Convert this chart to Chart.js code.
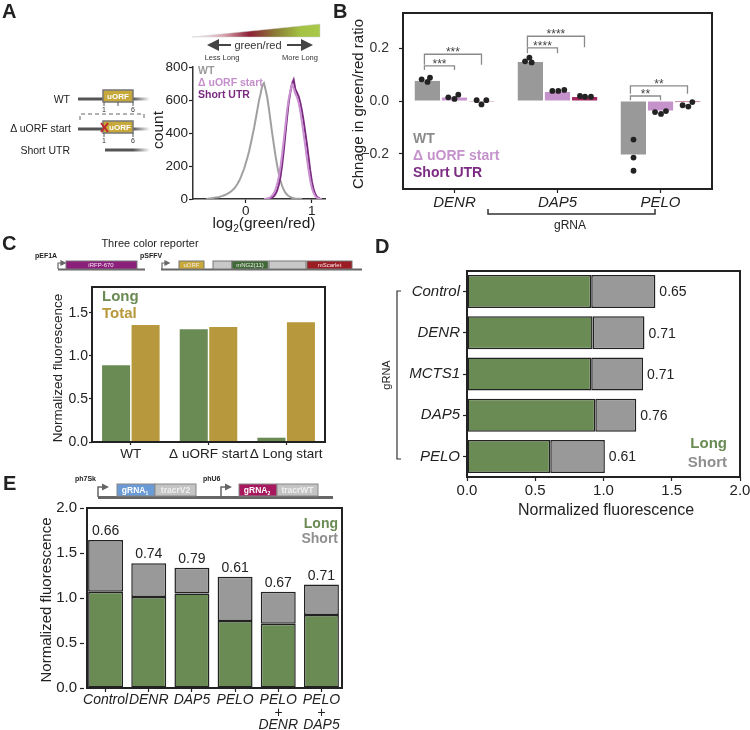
<!DOCTYPE html>
<html>
<head>
<meta charset="utf-8">
<script src="https://cdn.jsdelivr.net/npm/chart.js@4.4.0/dist/chart.umd.min.js"></script>
<style>
  body { margin: 0; background: #fff; width: 750px; height: 730px; position: relative; overflow: hidden;
         font-family: "Liberation Sans", Arial, sans-serif; }
  canvas { position: absolute; }
  svg { position: absolute; left: 0; top: 0; }
</style>
</head>
<body>
<canvas id="chA" width="192" height="160" style="left:140px;top:60px"></canvas>
<canvas id="chB" width="378" height="215" style="left:340px;top:5px"></canvas>
<canvas id="chB2" width="378" height="215" style="left:340px;top:5px"></canvas>
<canvas id="chC" width="275" height="185" style="left:55px;top:280px"></canvas>
<canvas id="chD" width="355" height="255" style="left:395px;top:264px"></canvas>
<canvas id="chE" width="307" height="230" style="left:40px;top:500px"></canvas>

<svg width="750" height="730" font-family="Liberation Sans, Arial, sans-serif">
  <defs>
    <linearGradient id="gr" x1="0" x2="1">
      <stop offset="0" stop-color="#ffffff"/>
      <stop offset="0.25" stop-color="#d7a2ae"/>
      <stop offset="0.45" stop-color="#8e1f35"/>
      <stop offset="0.65" stop-color="#8a7a35"/>
      <stop offset="0.85" stop-color="#a4c243"/>
      <stop offset="1" stop-color="#a9c94a"/>
    </linearGradient>
    <linearGradient id="fade" gradientUnits="userSpaceOnUse" x1="133" x2="150">
      <stop offset="0" stop-color="#555"/><stop offset="1" stop-color="#555" stop-opacity="0"/>
    </linearGradient>
    <marker id="ah" markerWidth="6" markerHeight="6" refX="4" refY="3" orient="auto">
      <path d="M0,0 L6,3 L0,6 z" fill="#444"/>
    </marker>
    <marker id="ah2" markerWidth="5" markerHeight="5" refX="3" refY="2.5" orient="auto">
      <path d="M0,0 L5,2.5 L0,5 z" fill="#666"/>
    </marker>
  </defs>

  <!-- panel letters -->
  <g font-weight="bold" font-size="20" fill="#222">
    <text x="2" y="18">A</text>
    <text x="333" y="18">B</text>
    <text x="2" y="250">C</text>
    <text x="375" y="253">D</text>
    <text x="3" y="490">E</text>
  </g>

  <!-- A: gradient key -->
  <polygon points="192,37 320,24 320,37" fill="url(#gr)" stroke="#ccc" stroke-width="0.5"/>
  <line x1="231" y1="45" x2="211" y2="45" stroke="#444" stroke-width="2" marker-end="url(#ah)"/>
  <line x1="287" y1="45" x2="309" y2="45" stroke="#444" stroke-width="2" marker-end="url(#ah)"/>
  <text x="258" y="49" text-anchor="middle" font-size="11" fill="#333">green/red</text>
  <text x="222" y="60" text-anchor="middle" font-size="7.5" fill="#333">Less Long</text>
  <text x="300" y="60" text-anchor="middle" font-size="7.5" fill="#333">More Long</text>

  <!-- A: construct schematic -->
  <g font-size="10.5" fill="#222" text-anchor="end">
    <text x="70" y="103">WT</text>
    <text x="71" y="132">Δ uORF start</text>
    <text x="70" y="154">Short UTR</text>
  </g>
  <line x1="78" y1="99" x2="133" y2="99" stroke="#555" stroke-width="3"/>
  <line x1="133" y1="99" x2="150" y2="99" stroke="url(#fade)" stroke-width="3"/>
  <rect x="103" y="90" width="30" height="12" fill="#c7a93b" stroke="#777" stroke-width="1.5"/>
  <text x="118" y="99" text-anchor="middle" font-size="8" font-weight="bold" fill="#fff">uORF</text>
  <g stroke="#555" stroke-width="1"><line x1="104" y1="102" x2="104" y2="106"/><line x1="118" y1="102" x2="118" y2="106"/><line x1="133" y1="102" x2="133" y2="106"/></g>
  <g font-size="7" fill="#333" text-anchor="middle"><text x="104" y="112">1</text><text x="133" y="112">6</text><text x="104" y="143">1</text><text x="133" y="143">6</text></g>
  <path d="M80,120 V114 H144 V120" fill="none" stroke="#999" stroke-width="1.5" stroke-dasharray="4,3"/>
  <line x1="78" y1="129" x2="133" y2="129" stroke="#555" stroke-width="3"/>
  <line x1="133" y1="129" x2="150" y2="129" stroke="url(#fade)" stroke-width="3"/>
  <rect x="103" y="121" width="30" height="12" fill="#c7a93b" stroke="#777" stroke-width="1.5"/>
  <text x="120" y="130" text-anchor="middle" font-size="8" font-weight="bold" fill="#fff">uORF</text>
  <g stroke="#c0282b" stroke-width="2"><line x1="101" y1="123" x2="108" y2="132"/><line x1="108" y1="123" x2="101" y2="132"/></g>
  <g stroke="#555" stroke-width="1"><line x1="104" y1="133" x2="104" y2="137"/><line x1="133" y1="133" x2="133" y2="137"/></g>
  <line x1="105" y1="150" x2="133" y2="150" stroke="#555" stroke-width="3"/>
  <line x1="133" y1="150" x2="150" y2="150" stroke="url(#fade)" stroke-width="3"/>

  <!-- A: titles and legend -->
  <text x="157" y="130" text-anchor="middle" dominant-baseline="central" font-size="15.5" fill="#222" transform="rotate(-90 157 130)">count</text>
  <text x="264" y="228" text-anchor="middle" font-size="15.5" fill="#222">log<tspan font-size="10" dy="4">2</tspan><tspan dy="-4">(green/red)</tspan></text>
  <g font-weight="bold" font-size="10.5">
    <text x="198" y="74" fill="#9a9a9a">WT</text>
    <text x="198" y="86" fill="#c48fcb">Δ uORF start</text>
    <text x="198" y="98" fill="#7a2a80">Short UTR</text>
  </g>

  <!-- B: titles, legend, gRNA bracket -->
  <text x="357" y="104" text-anchor="middle" dominant-baseline="central" font-size="15" fill="#222" transform="rotate(-90 357 104)">Chnage in green/red ratio</text>
  <g font-weight="bold" font-size="14">
    <text x="413" y="143" fill="#8c8c8c">WT</text>
    <text x="413" y="160" fill="#c592cc">Δ uORF start</text>
    <text x="413" y="177" fill="#7b2a82">Short UTR</text>
  </g>
  <path d="M488,209 V214 H655 V209" fill="none" stroke="#333" stroke-width="1.5"/>
  <text x="570" y="229" text-anchor="middle" font-size="12" fill="#222">gRNA</text>

  <!-- C: reporter schematic -->
  <text x="150" y="247" text-anchor="middle" font-size="11" fill="#222">Three color reporter</text>
  <g font-size="7" font-weight="bold" fill="#222">
    <text x="35" y="258">pEF1A</text>
    <text x="140" y="258">pSFFV</text>
  </g>
  <line x1="58" y1="269.5" x2="145" y2="269.5" stroke="#666" stroke-width="2"/>
  <path d="M58,269 V263 H64" fill="none" stroke="#666" stroke-width="1.2" marker-end="url(#ah2)"/>
  <rect x="66" y="261" width="71" height="8" fill="#8c1f7c" stroke="#777" stroke-width="1"/>
  <line x1="161" y1="269.5" x2="362" y2="269.5" stroke="#666" stroke-width="2"/>
  <path d="M162,269 V263 H168" fill="none" stroke="#666" stroke-width="1.2" marker-end="url(#ah2)"/>
  <rect x="179" y="261" width="25" height="8" fill="#c9a93a" stroke="#777" stroke-width="1"/>
  <rect x="213" y="261" width="19" height="8" fill="#c8c8c8" stroke="#777" stroke-width="1"/>
  <rect x="232" y="261" width="36" height="8" fill="#3e6b35" stroke="#777" stroke-width="1"/>
  <rect x="269" y="261" width="37" height="8" fill="#c8c8c8" stroke="#777" stroke-width="1"/>
  <rect x="307" y="261" width="45" height="8" fill="#9b1c22" stroke="#777" stroke-width="1"/>
  <g font-size="6" fill="#f4e9f0" text-anchor="middle">
    <text x="101" y="267.3">iRFP-670</text>
    <text x="191.5" y="267.3">uORF</text>
    <text x="250" y="267.3">mNG2(11)</text>
    <text x="329.5" y="267.3">mScarlet</text>
  </g>

  <!-- C: titles and legend -->
  <text x="57" y="368" text-anchor="middle" dominant-baseline="central" font-size="13.5" fill="#222" transform="rotate(-90 57 368)">Normalized fluorescence</text>
  <g font-weight="bold" font-size="15">
    <text x="102" y="301" fill="#6b8b55">Long</text>
    <text x="102" y="318" fill="#b8983c">Total</text>
  </g>

  <!-- D: gRNA bracket, titles, legend -->
  <path d="M401,291 H397 V459 H401" fill="none" stroke="#333" stroke-width="1.2"/>
  <text x="386" y="375" text-anchor="middle" dominant-baseline="central" font-size="11" fill="#222" transform="rotate(-90 386 375)">gRNA</text>
  <text x="606" y="515" text-anchor="middle" font-size="16" fill="#222">Normalized fluorescence</text>
  <g font-weight="bold" font-size="15" text-anchor="end">
    <text x="727" y="448" fill="#6b8b55">Long</text>
    <text x="727" y="467" fill="#8f8f8f">Short</text>
  </g>

  <!-- E: gRNA schematic -->
  <g font-size="7" font-weight="bold" fill="#222">
    <text x="75" y="481">ph7Sk</text>
    <text x="203" y="481">phU6</text>
  </g>
  <line x1="98" y1="497.5" x2="333" y2="497.5" stroke="#666" stroke-width="3"/>
  <path d="M98,497 V487 H106" fill="none" stroke="#666" stroke-width="1.5" marker-end="url(#ah2)"/>
  <path d="M221,497 V487 H229" fill="none" stroke="#666" stroke-width="1.5" marker-end="url(#ah2)"/>
  <rect x="117" y="484" width="38" height="12" fill="#6b9bd6" stroke="#888" stroke-width="1"/>
  <rect x="155" y="484" width="41" height="12" fill="#c4c4c4" stroke="#888" stroke-width="1"/>
  <rect x="239" y="484" width="38" height="12" fill="#a8185e" stroke="#888" stroke-width="1"/>
  <rect x="277" y="484" width="41" height="12" fill="#c4c4c4" stroke="#888" stroke-width="1"/>
  <g font-size="8.5" font-weight="bold" fill="#fff" text-anchor="middle">
    <text x="135" y="493">gRNA<tspan font-size="5" dy="2">1</tspan></text>
    <text x="175.5" y="493" fill="#f0f0f0">tracrV2</text>
    <text x="257" y="493">gRNA<tspan font-size="5" dy="2">2</tspan></text>
    <text x="297.5" y="493" fill="#f0f0f0">tracrWT</text>
  </g>

  <!-- E: titles and legend -->
  <text x="45" y="600" text-anchor="middle" dominant-baseline="central" font-size="15" fill="#222" transform="rotate(-90 45 600)">Normalized fluorescence</text>
  <g font-weight="bold" font-size="14" text-anchor="end">
    <text x="338" y="528" fill="#6b8b55">Long</text>
    <text x="338" y="543" fill="#8f8f8f">Short</text>
  </g>
</svg>

<script>
// ---- A: histogram of log2(green/red)
const binsA = [-0.6,-0.575,-0.55,-0.525,-0.5,-0.475,-0.45,-0.425,-0.4,-0.375,-0.35,-0.325,-0.3,-0.275,-0.25,-0.225,
  -0.2,-0.175,-0.15,-0.125,-0.1,-0.075,-0.05,-0.025,0,0.025,0.05,0.075,0.1,0.125,0.15,0.175,0.2,0.225,0.25,0.275,
  0.3,0.325,0.35,0.375,0.4,0.425,0.45,0.475,0.5,0.525,0.55,0.575,0.6,0.625,0.65,0.675,0.7,0.725,0.75,0.775,
  0.8,0.825,0.85,0.875,0.9,0.925,0.95,0.975,1,1.025,1.05,1.075,1.1,1.125,1.15];
const countWT = [0,1,3,4,6,7,10,9,13,16,19,23,27,32,38,46,
  54,63,77,92,110,132,158,185,218,252,290,335,382,430,485,540,598,640,688,702,
  662,615,548,472,398,330,262,204,152,110,80,56,38,26,18,12,8,5,3,2,
  1,1,0,0,0,0,0,0,0,0,0,0,0,0,0];
const countUorf = [0,0,0,0,0,0,0,0,0,0,0,0,0,0,0,0,
  0,0,0,0,0,0,0,0,0,0,0,0,0,0,0,0,0,0,0,0,
  1,3,6,12,22,36,58,90,135,195,270,355,445,535,605,655,695,672,640,618,
  585,535,468,398,325,248,178,115,68,38,18,8,3,1,0];
const countShort = [0,0,0,0,0,0,0,0,0,0,0,0,0,0,0,0,
  0,0,0,0,0,0,0,0,0,0,0,0,0,0,0,0,0,0,0,0,
  0,0,2,4,9,17,30,52,86,135,205,295,395,495,585,648,698,722,665,645,
  622,585,535,475,405,335,255,175,108,62,32,15,6,2,0];

// ---- B: change in green/red ratio
const groupsB = ['DENR', 'DAP5', 'PELO'];
const barWT = [0.076, 0.148, -0.202];
const barUorf = [0.013, 0.034, -0.036];
const barShort = [-0.001, 0.015, -0.004];
const ptsWT = [[0.082, 0.072, 0.088], [0.150, 0.164, 0.146], [-0.146, -0.214, -0.264]];
const ptsUorf = [[0.014, 0.008, 0.024], [0.038, 0.038, 0.042], [-0.042, -0.049, -0.038]];
const ptsShort = [[0.003, -0.013, 0.003], [0.019, 0.016, 0.016], [-0.016, -0.021, -0.004]];
const jitWT = [[-0.057, 0, 0.024], [-0.053, -0.011, 0.011], [0, 0, 0]];
const jitUorf = [[-0.06, 0, 0.037], [-0.05, 0.008, 0.066], [-0.053, 0.005, 0.053]];
const jitShort = [[-0.047, 0, 0.047], [-0.044, 0.005, 0.063], [-0.047, 0.008, 0.047]];
const sigGroup = [0, 0, 1, 1, 2, 2];
const sigTo = [1, 2, 1, 2, 1, 2];
const sigY = [0.133, 0.177, 0.201, 0.245, 0.019, 0.057];
const sigTip = [0.016, 0.04, 0.02, 0.042, 0.016, 0.03];
const sigText = ['***', '***', '****', '****', '**', '**'];

// ---- C: three color reporter
const groupsC = ['WT', 'Δ uORF start', 'Δ Long start'];
const longC = [0.89, 1.31, 0.05];
const totalC = [1.36, 1.335, 1.39];

// ---- D: single gRNA knockdowns
const groupsD = ['Control', 'DENR', 'MCTS1', 'DAP5', 'PELO'];
const longD = [0.91, 0.92, 0.91, 0.94, 0.61];
const shortD = [0.47, 0.38, 0.38, 0.30, 0.40];
const ratioD = ['0.65', '0.71', '0.71', '0.76', '0.61'];

// ---- E: double gRNA knockdowns
const groupsE = ['Control', 'DENR', 'DAP5', 'PELO', ['PELO', '+', 'DENR'], ['PELO', '+', 'DAP5']];
const longE = [1.07, 1.01, 1.05, 0.745, 0.715, 0.81];
const shortE = [0.575, 0.375, 0.285, 0.49, 0.355, 0.34];
const ratioE = ['0.66', '0.74', '0.79', '0.61', '0.67', '0.71'];

const GREEN = '#6b8b55', GREY = '#999999', INK = '#222';

Chart.defaults.font.family = '"Liberation Sans", Arial, sans-serif';
Chart.defaults.color = INK;
Chart.defaults.animation = false;
Chart.defaults.plugins.legend.display = false;
Chart.defaults.plugins.tooltip.enabled = false;

// fix axis sizes so the plot boxes land where the reference has them
function wide(w) { return s => { s.width = w; s.paddingTop = s.paddingBottom = s.paddingLeft = s.paddingRight = 0; }; }
function tall(h) { return s => { s.height = h; s.paddingTop = s.paddingBottom = s.paddingLeft = s.paddingRight = 0; }; }
function only(vals) { return s => { s.ticks = vals.map(v => ({ value: v })); }; }
const tickGrid = { display: true, drawOnChartArea: false, drawTicks: true, tickLength: 4, tickWidth: 1.2, color: INK, tickColor: INK };
const catGrid = Object.assign({}, tickGrid, { offset: false });
function frame(insetL, insetR) {
  return {
    id: 'frame',
    afterDatasetsDraw(c) {
      const a = c.chartArea, x = c.ctx;
      const l = a.left + (insetL || 0), r = a.right - (insetR || 0);
      x.save(); x.strokeStyle = INK; x.lineWidth = 2;
      x.strokeRect(l, a.top, r - l, a.bottom - a.top);
      x.restore();
    }
  };
}

// ---------- A
function lineData(counts) {
  return binsA.map((x, i) => {
    const c = counts[i];
    const lone = c === 0 && (counts[i - 1] || 0) === 0 && (counts[i + 1] || 0) === 0;
    return { x: x, y: lone ? null : c };
  });
}
new Chart(document.getElementById('chA'), {
  type: 'line',
  data: {
    datasets: [
      { label: 'Δ uORF start', data: lineData(countUorf), borderColor: '#c991cf', borderWidth: 2, pointRadius: 0, tension: 0 },
      { label: 'Short UTR', data: lineData(countShort), borderColor: '#7b2a82', borderWidth: 2, pointRadius: 0, tension: 0 },
      { label: 'WT', data: lineData(countWT), borderColor: '#a0a0a0', borderWidth: 2, pointRadius: 0, tension: 0 }
    ]
  },
  options: {
    responsive: false,
    layout: { padding: { left: 0, top: 7, right: 7, bottom: 0 } },
    scales: {
      x: { type: 'linear', min: -0.8, max: 1.2, afterBuildTicks: only([0, 1]), afterFit: tall(21),
           grid: tickGrid, border: { display: true, color: '#333', width: 1.5 },
           ticks: { font: { size: 13.5 }, padding: 0 } },
      y: { min: 0, max: 800, afterBuildTicks: only([0, 200, 400, 600, 800]), afterFit: wide(53),
           grid: tickGrid, border: { display: true, color: '#333', width: 1.5 },
           ticks: { font: { size: 13.5 }, padding: 1 } }
    }
  }
});

// ---------- B: bars
new Chart(document.getElementById('chB'), {
  type: 'bar',
  data: {
    labels: groupsB,
    datasets: [
      { label: 'WT', data: barWT, backgroundColor: '#999999' },
      { label: 'Δ uORF start', data: barUorf, backgroundColor: '#c592cc' },
      { label: 'Short UTR', data: barShort, backgroundColor: '#a3285f' }
    ]
  },
  options: {
    responsive: false,
    categoryPercentage: 0.79,
    barPercentage: 0.93,
    layout: { padding: { left: 0, top: 8, right: 6, bottom: 0 } },
    scales: {
      x: { afterFit: tall(31), grid: catGrid, border: { display: false },
           ticks: { font: { size: 15, style: 'italic' }, padding: 1 } },
      y: { min: -0.333, max: 0.333, afterBuildTicks: only([-0.2, 0, 0.2]), afterFit: wide(63),
           grid: tickGrid, border: { display: false },
           ticks: { font: { size: 14 }, padding: 10, color: '#333',
                    callback: v => (v < 0 ? '−' : '') + Math.abs(v).toFixed(1) } }
    }
  },
  plugins: [frame()]
});

// ---------- B: replicate dots and significance brackets on a matching overlay
const slotOff = [-0.262, 0, 0.262];
const ptsAll = [ptsWT, ptsUorf, ptsShort], jitAll = [jitWT, jitUorf, jitShort];
const dots = [];
for (let g = 0; g < groupsB.length; g++)
  for (let s = 0; s < 3; s++)
    for (let k = 0; k < 3; k++)
      dots.push({ x: g + slotOff[s] + jitAll[s][g][k], y: ptsAll[s][g][k] });

const sigPlugin = {
  id: 'sig',
  afterDatasetsDraw(c) {
    const x = c.ctx, sx = c.scales.x, sy = c.scales.y;
    x.save();
    x.strokeStyle = '#8a8a8a'; x.lineWidth = 1.3; x.fillStyle = '#444';
    x.font = '12px "Liberation Sans", Arial, sans-serif'; x.textAlign = 'center'; x.textBaseline = 'alphabetic';
    sigY.forEach((v, i) => {
      const xl = sx.getPixelForValue(sigGroup[i] + slotOff[0] - 0.03);
      const xr = sx.getPixelForValue(sigGroup[i] + slotOff[sigTo[i]]);
      const yl = sy.getPixelForValue(v), yt = sy.getPixelForValue(v - sigTip[i]);
      x.beginPath(); x.moveTo(xl, yt); x.lineTo(xl, yl); x.lineTo(xr, yl); x.lineTo(xr, yt); x.stroke();
      x.fillText(sigText[i], (xl + xr) / 2, yl + 2);
    });
    x.restore();
  }
};
new Chart(document.getElementById('chB2'), {
  type: 'scatter',
  data: { datasets: [{ label: 'replicates', data: dots, pointRadius: 2.9, backgroundColor: INK, borderWidth: 0 }] },
  options: {
    responsive: false,
    layout: { padding: { left: 63, top: 8, right: 6, bottom: 31 } },
    scales: {
      x: { type: 'linear', min: -0.5, max: 2.5, display: false },
      y: { min: -0.333, max: 0.333, display: false }
    }
  },
  plugins: [sigPlugin]
});

// ---------- C
new Chart(document.getElementById('chC'), {
  type: 'bar',
  data: {
    labels: groupsC,
    datasets: [
      { label: 'Long', data: longC, backgroundColor: GREEN },
      { label: 'Total', data: totalC, backgroundColor: '#b8983c' }
    ]
  },
  options: {
    responsive: false,
    categoryPercentage: 0.76,
    barPercentage: 0.95,
    layout: { padding: { left: 0, top: 7, right: 5, bottom: 0 } },
    scales: {
      x: { afterFit: tall(23), grid: Object.assign({}, catGrid, { tickLength: 3 }), border: { display: false },
           ticks: { font: { size: 13.5 }, padding: 1, maxRotation: 0, minRotation: 0, autoSkip: false } },
      y: { min: 0, max: 1.8, afterBuildTicks: only([0, 0.5, 1, 1.5]), afterFit: wide(37),
           grid: Object.assign({}, tickGrid, { tickLength: 3 }), border: { display: false },
           ticks: { font: { size: 14 }, padding: 1, callback: v => v.toFixed(1) } }
    }
  },
  plugins: [frame()]
});

// ---------- D
const labelD = {
  id: 'labD',
  afterDatasetsDraw(c) {
    const x = c.ctx, sx = c.scales.x, sy = c.scales.y;
    x.save(); x.fillStyle = INK; x.font = '14px "Liberation Sans", Arial, sans-serif';
    x.textAlign = 'left'; x.textBaseline = 'middle';
    ratioD.forEach((t, i) => x.fillText(t, sx.getPixelForValue(longD[i] + shortD[i]) + 4, sy.getPixelForValue(i) + 1));
    x.restore();
  }
};
new Chart(document.getElementById('chD'), {
  type: 'bar',
  data: {
    labels: groupsD,
    datasets: [
      { label: 'Long', data: longD, backgroundColor: GREEN, borderColor: INK, borderWidth: 1.5, borderSkipped: false },
      { label: 'Short', data: shortD, backgroundColor: GREY, borderColor: INK, borderWidth: 1.5, borderSkipped: false }
    ]
  },
  options: {
    responsive: false,
    indexAxis: 'y',
    categoryPercentage: 0.8,
    barPercentage: 1,
    layout: { padding: { left: 0, top: 7, right: 10, bottom: 0 } },
    scales: {
      x: { stacked: true, min: 0, max: 2, afterBuildTicks: only([0, 0.5, 1, 1.5, 2]), afterFit: tall(42),
           grid: tickGrid, border: { display: false },
           ticks: { font: { size: 15 }, padding: 1, maxRotation: 0, callback: v => v.toFixed(1) } },
      y: { stacked: true, afterFit: wide(72), grid: catGrid, border: { display: false },
           ticks: { font: { size: 15, style: 'italic' }, padding: 3 } }
    }
  },
  plugins: [frame(), labelD]
});

// ---------- E
const labelE = {
  id: 'labE',
  afterDatasetsDraw(c) {
    const x = c.ctx, sx = c.scales.x, sy = c.scales.y;
    x.save(); x.fillStyle = INK; x.font = '14px "Liberation Sans", Arial, sans-serif';
    x.textAlign = 'center'; x.textBaseline = 'alphabetic';
    ratioE.forEach((t, i) => x.fillText(t, sx.getPixelForValue(i), sy.getPixelForValue(longE[i] + shortE[i]) - 5));
    x.restore();
  }
};
new Chart(document.getElementById('chE'), {
  type: 'bar',
  data: {
    labels: groupsE,
    datasets: [
      { label: 'Long', data: longE, backgroundColor: GREEN, borderColor: INK, borderWidth: 1.5, borderSkipped: false },
      { label: 'Short', data: shortE, backgroundColor: GREY, borderColor: INK, borderWidth: 1.5, borderSkipped: false }
    ]
  },
  options: {
    responsive: false,
    categoryPercentage: 0.81,
    barPercentage: 1,
    layout: { padding: { left: 0, top: 8, right: 4, bottom: 0 } },
    scales: {
      x: { stacked: true, afterFit: tall(42), grid: catGrid, border: { display: false },
           ticks: { font: { size: 14, style: 'italic', lineHeight: 0.9 }, padding: 2, maxRotation: 0, minRotation: 0, autoSkip: false } },
      y: { stacked: true, min: 0, max: 2, afterBuildTicks: only([0, 0.5, 1, 1.5, 2]), afterFit: wide(44),
           grid: tickGrid, border: { display: false },
           ticks: { font: { size: 15 }, padding: 3, callback: v => v.toFixed(1) } }
    }
  },
  plugins: [frame(3, 1), labelE]
});
</script>
</body>
</html>
